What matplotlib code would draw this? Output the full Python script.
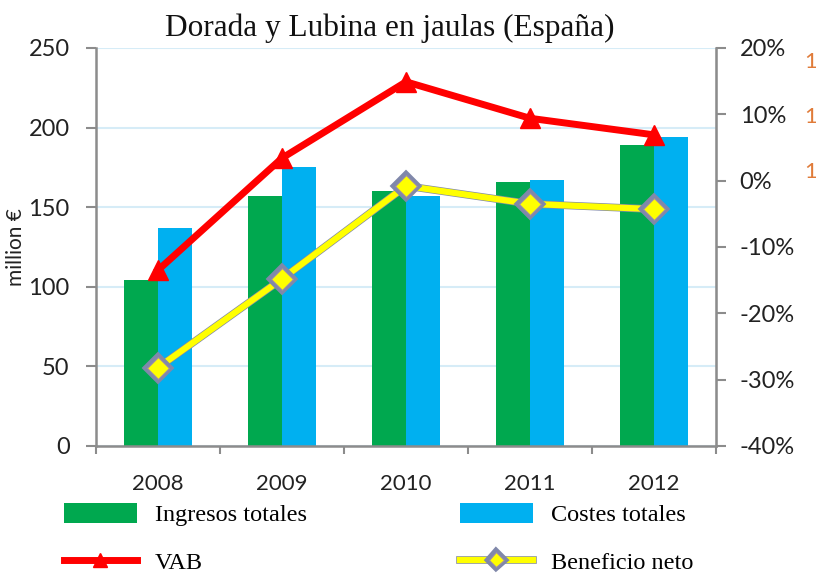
import matplotlib
matplotlib.use("Agg")
import matplotlib.pyplot as plt
import matplotlib.patheffects as pe
import numpy as np

years = ['2008', '2009', '2010', '2011', '2012']
ingresos = [104, 157, 160, 166, 189]
costes = [137, 175, 157, 167, 194]
vab = [-13.5, 3.4, 14.9, 9.4, 6.9]
beneficio = [-28.2, -14.8, -0.8, -3.5, -4.3]

tick_font = 'Lato'
serif = 'Liberation Serif'
grey = '#8c8c8c'

fig = plt.figure(figsize=(8.16, 5.78), dpi=100)
ax = fig.add_axes([0.1176, 0.2284, 0.76, 0.6886])
ax2 = ax.twinx()

x = np.arange(len(years))
w = 0.275
b1 = ax.bar(x - w / 2, ingresos, w, color='#00a84f', label='Ingresos totales', zorder=2)
b2 = ax.bar(x + w / 2, costes, w, color='#00b0f0', label='Costes totales', zorder=2)

ax.set_xlim(-0.5, len(years) - 0.5)
ax.set_ylim(0, 250)
ax.set_yticks(range(0, 251, 50))
ax.yaxis.grid(True, color='#d6ecf7', linewidth=1.5, zorder=0)
ax.set_axisbelow(True)
ax.set_xticks(np.arange(-0.5, len(years), 1.0), minor=False)
ax.set_xticklabels([])
ax.set_xticks(x, minor=True)
ax.set_xticklabels(years, minor=True, fontsize=16, family=tick_font, color='#222222')
ax.tick_params(axis='x', which='major', length=6, color=grey, width=1.5, direction='out')
ax.tick_params(axis='x', which='minor', length=0, pad=20)
ax.tick_params(axis='y', length=7, color=grey, width=1.5, labelsize=17, pad=12)
for lab in ax.get_yticklabels():
    lab.set_family(tick_font)
    lab.set_color('#222222')
ax.set_ylabel('million €', fontsize=15, family=tick_font, color='#222222', labelpad=2)

for s in ['top']:
    ax.spines[s].set_visible(False)
    ax2.spines[s].set_visible(False)
for s in ['left', 'bottom']:
    ax.spines[s].set_color(grey)
    ax.spines[s].set_linewidth(1.8)
ax2.spines['right'].set_color(grey)
ax2.spines['right'].set_linewidth(1.8)
ax2.spines['left'].set_visible(False)
ax2.spines['bottom'].set_visible(False)

l1, = ax2.plot(x, vab, color='#ff0000', linewidth=5, marker='^', markersize=15,
               markeredgecolor='#ff0000', label='VAB', zorder=3)
l2, = ax2.plot(x, beneficio, color='#ffff00', linewidth=4.5, marker='D', markersize=11,
               markeredgecolor='#9a8ca8', markeredgewidth=0.8, label='Beneficio neto', zorder=4,
               path_effects=[pe.Stroke(linewidth=5.5, foreground='#8088aa'), pe.Normal()])
ax2.set_ylim(-40, 20)
ax2.set_yticks(range(-40, 21, 10))
ax2.set_yticklabels([f'{v}%' for v in range(-40, 21, 10)])
ax2.tick_params(axis='y', length=7, color=grey, width=1.5, labelsize=17, pad=10)
for lab in ax2.get_yticklabels():
    lab.set_family(tick_font)
    lab.set_color('#222222')

fig.text(0.478, 0.951, 'Dorada y Lubina en jaulas (España)', ha='center', va='center',
         fontsize=22.5, family=serif, color='#111111')

# labels of a third axis, cut off at the right edge as in the source
for yy in [0.893, 0.797, 0.702]:
    fig.text(0.986, yy, '1', fontsize=16, family=tick_font, color='#e07b39', ha='left', va='center')

fig.legend([b1, l1, b2, l2], ['Ingresos totales', 'VAB', 'Costes totales', 'Beneficio neto'],
           ncol=2, loc='upper left', bbox_to_anchor=(0.078, 0.13), frameon=False,
           prop={'family': serif, 'size': 17.5}, handlelength=3.0, handleheight=0.9,
           labelspacing=1.0, columnspacing=6.3, handletextpad=0.75, markerscale=0.7,
           borderaxespad=0, borderpad=0)

fig.savefig('out.png', dpi=100)
